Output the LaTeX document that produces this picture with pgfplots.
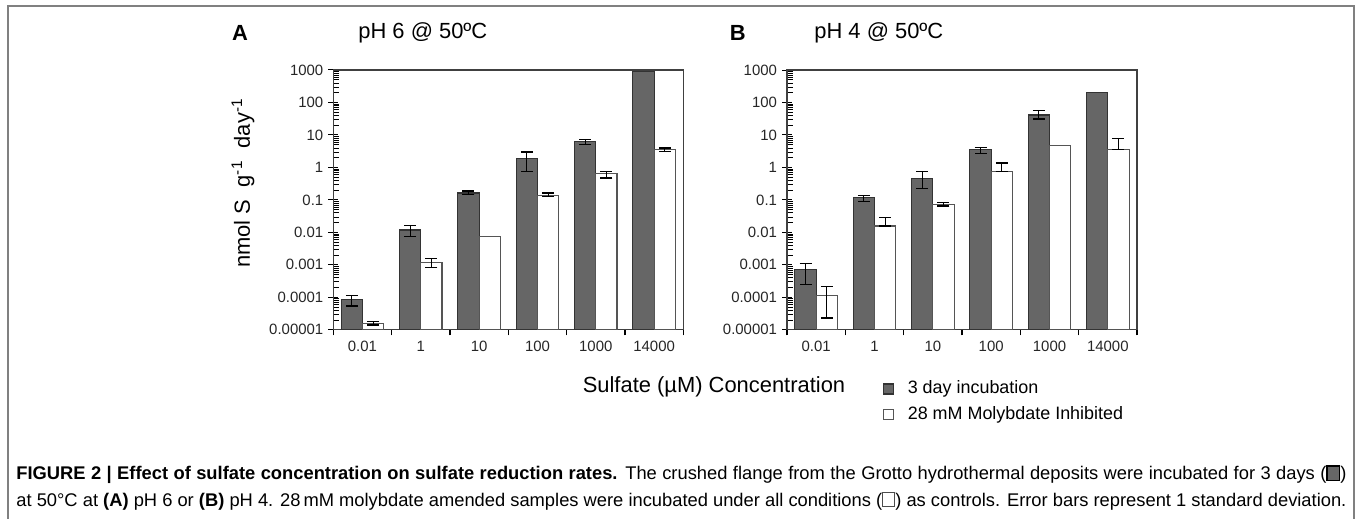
\documentclass[border=0pt]{standalone}
\usepackage{fontspec}
\setmainfont{Liberation Sans}
\usepackage{pgfplots}
\usepackage{pgfplotstable}
\pgfplotsset{compat=1.18}
\definecolor{barA}{HTML}{666666}
\definecolor{barAedge}{HTML}{333333}
\definecolor{barBedge}{HTML}{555555}
\definecolor{framegray}{HTML}{808080}

% Panel A: pH 6 @ 50C
\pgfplotstableread{
x dark white
0 8.5e-5 1.6e-5
1 0.0118 0.00115
2 0.164 0.0074
3 1.93 0.14
4 6.4 0.64
5 900 3.47
}\dataA
\pgfplotstableread{
x y ep em
0 8.5e-5 3.2e-5 3.1e-5
1 0.0118 0.0042 0.0043
2 0.164 0.025 0.018
3 1.93 1.07 1.18
4 6.4 0.96 1.2
}\errAdark
\pgfplotstableread{
x y ep em
0 1.6e-5 2e-6 2e-6
1 0.00115 0.00045 0.0003
3 0.14 0.022 0.016
4 0.64 0.11 0.17
5 3.47 0.5 0.38
}\errAwhite
% Panel B: pH 4 @ 50C
\pgfplotstableread{
x dark white
0 0.0007 0.000113
1 0.116 0.0157
2 0.469 0.0725
3 3.47 0.748
4 41.4 4.71
5 200 3.65
}\dataB
\pgfplotstableread{
x y ep em
0 0.0007 0.00041 0.00045
1 0.116 0.021 0.026
2 0.469 0.264 0.25
3 3.47 0.63 0.72
4 41.4 14.6 10.2
}\errBdark
\pgfplotstableread{
x y ep em
0 0.000113 0.0001 0.00009
1 0.0157 0.013 0
2 0.0725 0.013 0.008
3 0.748 0.63 0
5 3.65 4.07 0
}\errBwhite

\pgfplotsset{
  every axis/.append style={
    scale only axis, width=175bp, height=129.9bp,
    ymin=1e-5, ymax=1000,
    xmin=-0.5, xmax=5.5,
    xtick={0,1,2,3,4,5}, xticklabels={0.01,1,10,100,1000,14000},
    minor xtick={-0.5,0.5,1.5,2.5,3.5,4.5,5.5},
    ytick={1e-5,1e-4,1e-3,0.01,0.1,1,10,100,1000},
    yticklabels={0.00001,0.0001,0.001,0.01,0.1,1,10,100,1000},
    minor ytick={2e-5,3e-5,4e-5,5e-5,6e-5,7e-5,8e-5,9e-5,
                 2e-4,3e-4,4e-4,5e-4,6e-4,7e-4,8e-4,9e-4,
                 2e-3,3e-3,4e-3,5e-3,6e-3,7e-3,8e-3,9e-3,
                 0.02,0.03,0.04,0.05,0.06,0.07,0.08,0.09,
                 0.2,0.3,0.4,0.5,0.6,0.7,0.8,0.9,
                 2,3,4,5,6,7,8,9,
                 20,30,40,50,60,70,80,90,
                 200,300,400,500,600,700,800,900},
    xtick pos=left, ytick pos=left,
    xtick align=outside, ytick align=inside,
    major tick length=5bp, minor tick length=2.75bp,
    major x tick style={draw=none},
    major y tick style={xshift=-2.5bp, draw=black, line width=0.5bp},
    minor x tick style={draw=black, line width=0.6bp},
    minor y tick style={draw=black, line width=0.35bp},
    ticklabel style={font=\fontsize{7.5}{9}\selectfont, text=black!85},
    yticklabel style={xshift=-1.5bp},
    xticklabel style={yshift=3bp},
    axis line style={draw=black!75, line width=0.6bp},
    clip=false,
  },
  myerr/.style={draw=none, mark=none, forget plot},
}

\begin{document}
\begin{tikzpicture}
\useasboundingbox (0,0) rectangle (680bp,259.5bp);
\draw[framegray, line width=0.6bp] (4bp,0) -- (4bp,256.5bp) -- (677bp,256.5bp) -- (677bp,0);

% Panel A
\begin{semilogyaxis}[at={(166.65bp,94.6bp)}, anchor=south west, log origin=infty]
\addplot[ybar, bar width=0.365, bar shift=-0.1825, fill=barA, draw=barAedge, line width=0.6bp] table[x=x, y=dark] {\dataA};
\addplot[ybar, bar width=0.365, bar shift=0.1825, fill=white, draw=barBedge, line width=0.6bp] table[x=x, y=white] {\dataA};
\addplot[myerr, error bars/.cd, y dir=both, y explicit,
     error bar style={draw=black, line width=0.6bp},
     error mark options={draw=black, line width=0.6bp, mark size=3bp, rotate=90}]
  table[x expr=\thisrow{x}-0.1825, y=y, y error plus=ep, y error minus=em] {\errAdark};
\addplot[myerr, error bars/.cd, y dir=both, y explicit,
     error bar style={draw=black, line width=0.6bp},
     error mark options={draw=black, line width=0.6bp, mark size=3bp, rotate=90}]
  table[x expr=\thisrow{x}+0.1825, y=y, y error plus=ep, y error minus=em] {\errAwhite};
\end{semilogyaxis}

% Panel B
\begin{semilogyaxis}[at={(393.5bp,94.6bp)}, anchor=south west, log origin=infty,
  legend cell align=left,
  legend style={at={(0.272,-0.18)}, anchor=north west, draw=none, fill=none, inner sep=0pt,
    font=\fontsize{9}{11}\selectfont, row sep=1bp,
    /tikz/every odd column/.append style={column sep=5bp}}]
\addplot[ybar, bar width=0.365, bar shift=-0.1825, fill=barA, draw=barAedge, line width=0.6bp,
     legend image code/.code={\draw[fill=barA, draw=barAedge, line width=0.6bp] (0bp,-2.5bp) rectangle (5bp,2.5bp);}]
  table[x=x, y=dark] {\dataB};
\addlegendentry{3 day incubation}
\addplot[ybar, bar width=0.365, bar shift=0.1825, fill=white, draw=barBedge, line width=0.6bp,
     legend image code/.code={\draw[fill=white, draw=barBedge, line width=0.6bp] (0bp,-2.5bp) rectangle (5bp,2.5bp);}]
  table[x=x, y=white] {\dataB};
\addlegendentry{28 mM Molybdate Inhibited}
\addplot[myerr, error bars/.cd, y dir=both, y explicit,
     error bar style={draw=black, line width=0.6bp},
     error mark options={draw=black, line width=0.6bp, mark size=3bp, rotate=90}]
  table[x expr=\thisrow{x}-0.1825, y=y, y error plus=ep, y error minus=em] {\errBdark};
\addplot[myerr, error bars/.cd, y dir=both, y explicit,
     error bar style={draw=black, line width=0.6bp},
     error mark options={draw=black, line width=0.6bp, mark size=3bp, rotate=90}]
  table[x expr=\thisrow{x}+0.1825, y=y, y error plus=ep, y error minus=em] {\errBwhite};
\end{semilogyaxis}

% titles
\node[anchor=west, inner sep=0pt, font=\bfseries\fontsize{11}{13}\selectfont] at (115.8bp,243bp) {A};
\node[anchor=west, inner sep=0pt, font=\fontsize{11}{13}\selectfont] at (179bp,243bp) {pH 6 @ 50ºC};
\node[anchor=west, inner sep=0pt, font=\bfseries\fontsize{11}{13}\selectfont] at (364.7bp,243bp) {B};
\node[anchor=west, inner sep=0pt, font=\fontsize{11}{13}\selectfont] at (407bp,243bp) {pH 4 @ 50ºC};
% y label
\node[rotate=90, inner sep=0pt, font=\fontsize{11}{13}\selectfont] at (121.5bp,168bp)
  {nmol S\ \ g\textsuperscript{-1}\ \ day\textsuperscript{-1}};
% x label
\node[inner sep=0pt, font=\fontsize{11}{13}\selectfont] at (357bp,66bp) {Sulfate (µM) Concentration};
% caption
\node[anchor=base west, inner sep=0pt, font=\fontsize{9.2}{11}\selectfont] at (8bp,19.6bp)
  {\makebox[665bp][s]{\textbf{FIGURE 2 | Effect of sulfate concentration on sulfate reduction rates.} The crushed flange from the Grotto hydrothermal deposits were incubated for 3 days ({\setlength\fboxsep{0pt}\setlength\fboxrule{0.7bp}\fcolorbox{black}{barA}{\rule{0pt}{6.6bp}\rule{5.5bp}{0pt}}})}};
\node[anchor=base west, inner sep=0pt, font=\fontsize{9.2}{11}\selectfont] at (8bp,6.3bp)
  {\makebox[665bp][s]{at 50°C at \textbf{(A)} pH 6 or \textbf{(B)} pH 4. 28\,mM molybdate amended samples were incubated under all conditions ({\setlength\fboxsep{0pt}\setlength\fboxrule{0.5bp}\fcolorbox{black!70}{white}{\rule{0pt}{6.6bp}\rule{5.5bp}{0pt}}}) as controls. Error bars represent 1 standard deviation.}};
\end{tikzpicture}
\end{document}
